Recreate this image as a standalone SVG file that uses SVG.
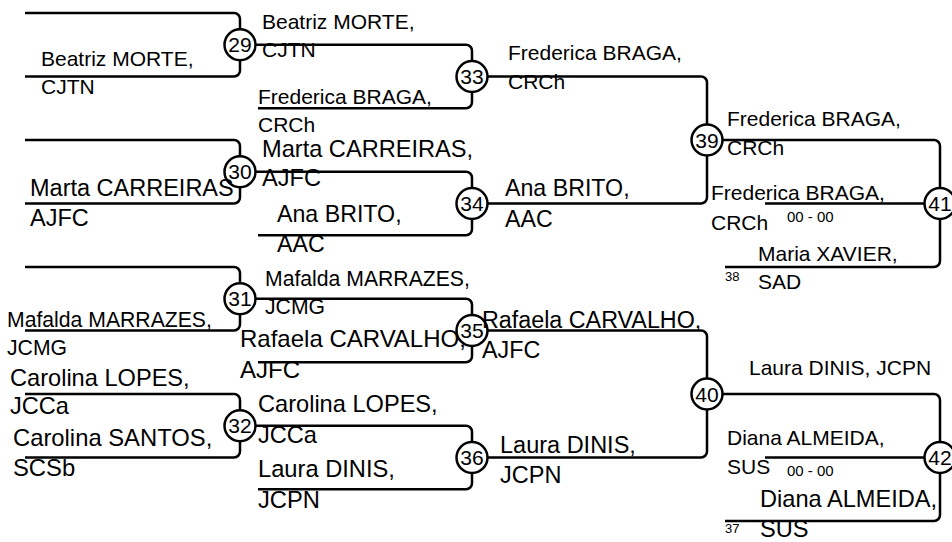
<svg xmlns="http://www.w3.org/2000/svg" width="952" height="542" viewBox="0 0 952 542">
<style>
.ln{fill:none;stroke:#000;stroke-width:2.5;stroke-linecap:butt}
.c{fill:none;stroke:#000;stroke-width:2.5}
text{font-family:"Liberation Sans",Arial,sans-serif;fill:#000}
.n{font-size:21px;text-anchor:middle}
.sm{font-size:15px}
.xs{font-size:13px}
</style>
<rect width="952" height="542" fill="#fff"/>
<g id="connectors">
<path class="ln" d="M25 13H234A6 6 0 0 1 240 19V29.25M25 76.5H234A6 6 0 0 0 240 70.5V60.25"/>
<path class="ln" d="M25 140H234A6 6 0 0 1 240 146V156.25M25 203.5H234A6 6 0 0 0 240 197.5V187.25"/>
<path class="ln" d="M25 267H234A6 6 0 0 1 240 273V283.25M25 330.5H234A6 6 0 0 0 240 324.5V314.25"/>
<path class="ln" d="M25 394H234A6 6 0 0 1 240 400V410.25M25 457.5H234A6 6 0 0 0 240 451.5V441.25"/>
<path class="ln" d="M255.5 44.75H466A6 6 0 0 1 472 50.75V61M258 108.25H466A6 6 0 0 0 472 102.25V92"/>
<path class="ln" d="M255.5 171.75H466A6 6 0 0 1 472 177.75V188M258 235.25H466A6 6 0 0 0 472 229.25V219"/>
<path class="ln" d="M255.5 298.75H466A6 6 0 0 1 472 304.75V315M258 362.25H466A6 6 0 0 0 472 356.25V346"/>
<path class="ln" d="M255.5 425.75H466A6 6 0 0 1 472 431.75V442M258 489.25H466A6 6 0 0 0 472 483.25V473"/>
<path class="ln" d="M487.5 76.5H701A6 6 0 0 1 707 82.5V124.5M487.5 203.5H701A6 6 0 0 0 707 197.5V155.5"/>
<path class="ln" d="M487.5 330.5H701A6 6 0 0 1 707 336.5V378.5M487.5 457.5H701A6 6 0 0 0 707 451.5V409.5"/>
<path class="ln" d="M722.5 140H934A6 6 0 0 1 940 146V188M765 203.5H924.5M725 267H934A6 6 0 0 0 940 261V219"/>
<path class="ln" d="M722.5 394H934A6 6 0 0 1 940 400V442M765 457.5H924.5M725 521H934A6 6 0 0 0 940 515V473"/>
</g>
<g id="m29"><circle class="c" cx="240" cy="44.75" r="15.5"/><text class="n" x="240" y="52.25">29</text>
<text x="41" y="66" font-size="21">Beatriz MORTE,</text><text x="41" y="94" font-size="21">CJTN</text></g>
<g id="m30"><circle class="c" cx="240" cy="171.75" r="15.5"/><text class="n" x="240" y="179.25">30</text>
<text x="30" y="196" font-size="23.5">Marta CARREIRAS</text><text x="30" y="226" font-size="23.5">AJFC</text></g>
<g id="m31"><circle class="c" cx="240" cy="298.75" r="15.5"/><text class="n" x="240" y="306.25">31</text>
<text x="7" y="327" font-size="21.2">Mafalda MARRAZES,</text><text x="7" y="355" font-size="21.2">JCMG</text></g>
<g id="m32"><circle class="c" cx="240" cy="425.75" r="15.5"/><text class="n" x="240" y="433.25">32</text>
<text x="10" y="386" font-size="23.6">Carolina LOPES,</text><text x="10" y="414" font-size="23.6">JCCa</text>
<text x="13" y="446" font-size="23.8">Carolina SANTOS,</text><text x="13" y="476" font-size="23.8">SCSb</text></g>
<g id="m33"><circle class="c" cx="472" cy="76.5" r="15.5"/><text class="n" x="472" y="84">33</text>
<text x="262" y="29" font-size="21">Beatriz MORTE,</text><text x="262" y="57" font-size="21">CJTN</text>
<text x="258" y="104" font-size="21">Frederica BRAGA,</text><text x="258" y="132" font-size="21">CRCh</text></g>
<g id="m34"><circle class="c" cx="472" cy="203.5" r="15.5"/><text class="n" x="472" y="211">34</text>
<text x="262" y="157" font-size="23.6">Marta CARREIRAS,</text><text x="262" y="186" font-size="23.6">AJFC</text>
<text x="277" y="222" font-size="23.2">Ana BRITO,</text><text x="277" y="252" font-size="23.2">AAC</text></g>
<g id="m35"><circle class="c" cx="472" cy="330.5" r="15.5"/><text class="n" x="472" y="338">35</text>
<text x="265" y="286" font-size="21.2">Mafalda MARRAZES,</text><text x="265" y="314" font-size="21.2">JCMG</text>
<text x="240" y="347" font-size="24">Rafaela CARVALHO,</text><text x="240" y="378" font-size="24">AJFC</text></g>
<g id="m36"><circle class="c" cx="472" cy="457.5" r="15.5"/><text class="n" x="472" y="465">36</text>
<text x="258" y="412" font-size="23.6">Carolina LOPES,</text><text x="258" y="443" font-size="23.6">JCCa</text>
<text x="258" y="477" font-size="23.7">Laura DINIS,</text><text x="258" y="508" font-size="23.7">JCPN</text></g>
<g id="m39"><circle class="c" cx="707" cy="140" r="15.5"/><text class="n" x="707" y="147.5">39</text>
<text x="508" y="60" font-size="21">Frederica BRAGA,</text><text x="508" y="89" font-size="21">CRCh</text>
<text x="505" y="196" font-size="23.2">Ana BRITO,</text><text x="505" y="227" font-size="23.2">AAC</text></g>
<g id="m40"><circle class="c" cx="707" cy="394" r="15.5"/><text class="n" x="707" y="401.5">40</text>
<text x="482" y="328" font-size="23.3">Rafaela CARVALHO,</text><text x="482" y="358" font-size="23.3">AJFC</text>
<text x="500" y="453" font-size="23.5">Laura DINIS,</text><text x="500" y="483" font-size="23.5">JCPN</text></g>
<g id="m41"><circle class="c" cx="940" cy="203.5" r="15.5"/><text class="n" x="940" y="211">41</text>
<text x="727" y="126" font-size="21">Frederica BRAGA,</text><text x="727" y="155" font-size="21">CRCh</text>
<text x="711" y="200" font-size="21">Frederica BRAGA,</text><text x="711" y="230" font-size="21">CRCh</text>
<text class="sm" x="787" y="222">00 - 00</text>
<text x="758" y="261" font-size="21">Maria XAVIER,</text><text x="758" y="289" font-size="21">SAD</text>
<text class="xs" x="725" y="281">38</text></g>
<g id="m42"><circle class="c" cx="940" cy="457.5" r="15.5"/><text class="n" x="940" y="465">42</text>
<text x="749" y="375" font-size="21">Laura DINIS, JCPN</text>
<text x="727" y="445" font-size="21">Diana ALMEIDA,</text><text x="727" y="474" font-size="21">SUS</text>
<text class="sm" x="787" y="476">00 - 00</text>
<text x="760" y="507" font-size="23.6">Diana ALMEIDA,</text><text x="760" y="537" font-size="23.6">SUS</text>
<text class="xs" x="725" y="533">37</text></g>
</svg>
